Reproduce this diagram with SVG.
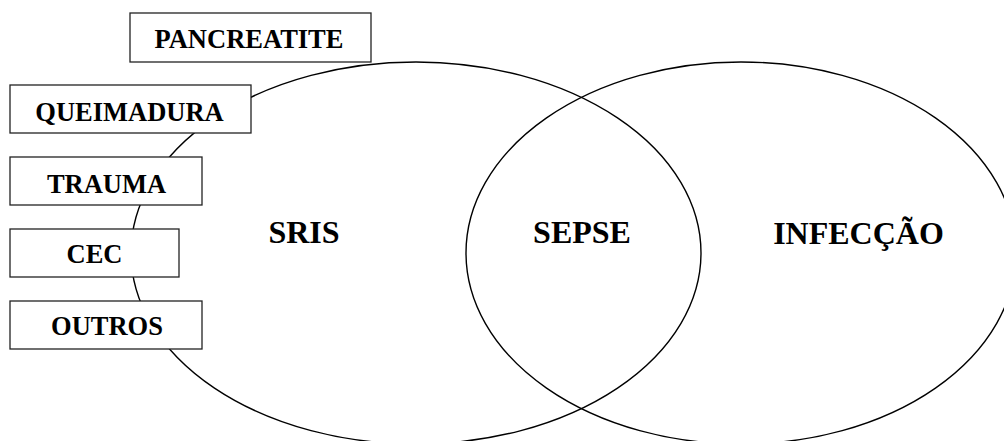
<svg xmlns="http://www.w3.org/2000/svg" width="1004" height="441" viewBox="0 0 1004 441">
<style>
.set{fill:none;stroke:#000;stroke-width:1.4}
.box{fill:#fff;stroke:#222;stroke-width:1.3}
.lbl{font-family:"Liberation Serif","Times New Roman",serif;font-weight:bold;fill:#000;text-anchor:middle}
.small{font-size:26.5px}
.big{font-size:32px}
</style>
<rect width="1004" height="441" fill="#fff"/>
<g id="sets">
<ellipse id="sris-set" class="set" cx="416" cy="253" rx="285" ry="191"/>
<ellipse id="infeccao-set" class="set" cx="741" cy="253" rx="275" ry="191"/>
</g>
<g id="set-labels">
<text class="lbl big" x="304" y="243">SRIS</text>
<text class="lbl big" x="582" y="243">SEPSE</text>
<text class="lbl big" x="858.5" y="244">INFECÇÃO</text>
</g>
<g id="connectors"></g>
<g id="pancreatite">
<rect class="box" x="130" y="13" width="241" height="49"/>
<text class="lbl small" x="249" y="48">PANCREATITE</text>
</g>
<g id="queimadura">
<rect class="box" x="10" y="85" width="241" height="48"/>
<text class="lbl small" x="129.5" y="121">QUEIMADURA</text>
</g>
<g id="trauma">
<rect class="box" x="10" y="157" width="192" height="48"/>
<text class="lbl small" x="106.5" y="193">TRAUMA</text>
</g>
<g id="cec">
<rect class="box" x="10" y="229" width="169" height="48"/>
<text class="lbl small" x="94.5" y="263">CEC</text>
</g>
<g id="outros">
<rect class="box" x="10" y="301" width="192" height="48"/>
<text class="lbl small" x="107" y="335">OUTROS</text>
</g>
</svg>
